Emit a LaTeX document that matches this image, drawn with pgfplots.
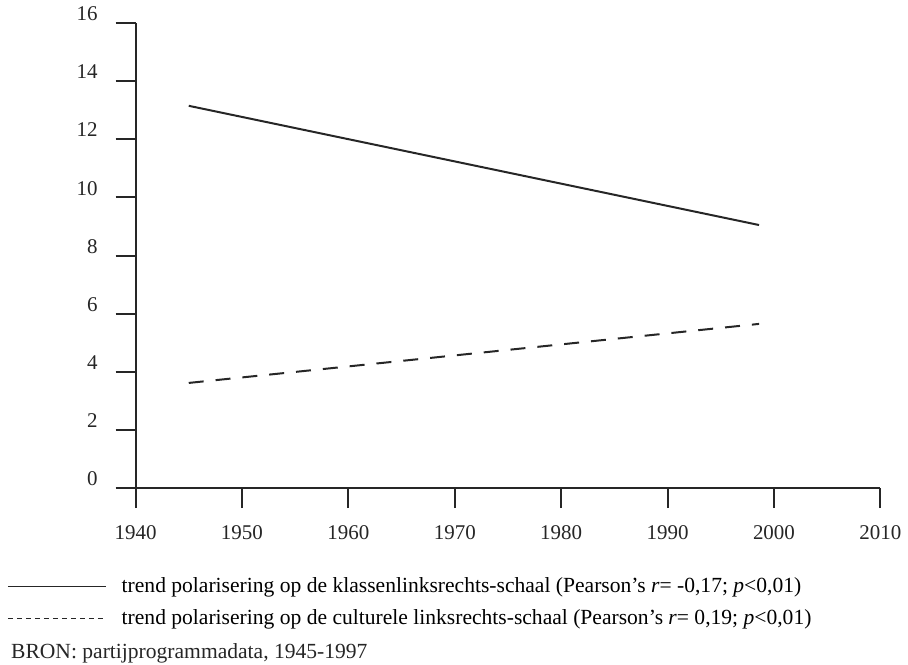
\documentclass[border=0pt]{standalone}
\usepackage{pgfplots}
\pgfplotsset{compat=1.18}
\usepackage{fontspec}
\setmainfont{Liberation Serif}
\begin{document}
\begin{tikzpicture}
\begin{axis}[
  scale only axis,
  width=373pt, height=233pt,
  xmin=1940, xmax=2010, ymin=0, ymax=16,
  xtick={1940,1950,...,2010},
  ytick={0,2,...,16},
  axis lines*=left,
  axis line style={-, line width=1pt, black!85},
  tick style={line width=1pt, black!85},
  major tick length=10pt,
  tick align=outside,
  /pgf/number format/1000 sep={},
  /pgf/number format/assume math mode=true,
  tick label style={font=\fontsize{10.5}{12}\selectfont, black!85},
  yticklabel style={anchor=base east, xshift=-5.5pt, yshift=1.2pt},
  xticklabel style={yshift=-5pt},
  clip=false,
  legend style={at={(-0.173,-0.185)}, anchor=north west, draw=none, fill=none,
    font=\fontsize{10.8}{12}\selectfont, legend cell align=left,
    row sep=4pt, inner sep=0pt, nodes={inner sep=1.5pt}},
]
\addplot[black!85, line width=1pt,
  legend image code/.code={\draw[black!85, line width=0.8pt, solid] (0pt,0pt) -- (49pt,0pt); \path[draw=none] (0pt,0pt) -- (55.5pt,0pt);}]
  coordinates {(1945,13.15) (1998.6,9.05)};
\addlegendentry{trend polarisering op de klassenlinksrechts-schaal (Pearson’s \textit{r}= -0,17; \textit{p}<0,01)}
\addplot[black!85, line width=1pt, dash pattern=on 7.5pt off 6pt,
  legend image code/.code={\draw[black!85, line width=0.8pt, dash pattern=on 2.8pt off 1.7pt] (0pt,0pt) -- (49pt,0pt); \path[draw=none] (0pt,0pt) -- (55.5pt,0pt);}]
  coordinates {(1945,3.62) (1998.6,5.65)};
\addlegendentry{trend polarisering op de culturele linksrechts-schaal (Pearson’s \textit{r}= 0,19; \textit{p}<0,01)}
\node[anchor=base west, inner sep=0pt, font=\fontsize{10.8}{12}\selectfont, black!85]
  at (rel axis cs:-0.1676,-0.367) {BRON: partijprogrammadata, 1945-1997};
\path (rel axis cs:-0.182,-0.38) (rel axis cs:1.035,1.043);
\end{axis}
\end{tikzpicture}
\end{document}
